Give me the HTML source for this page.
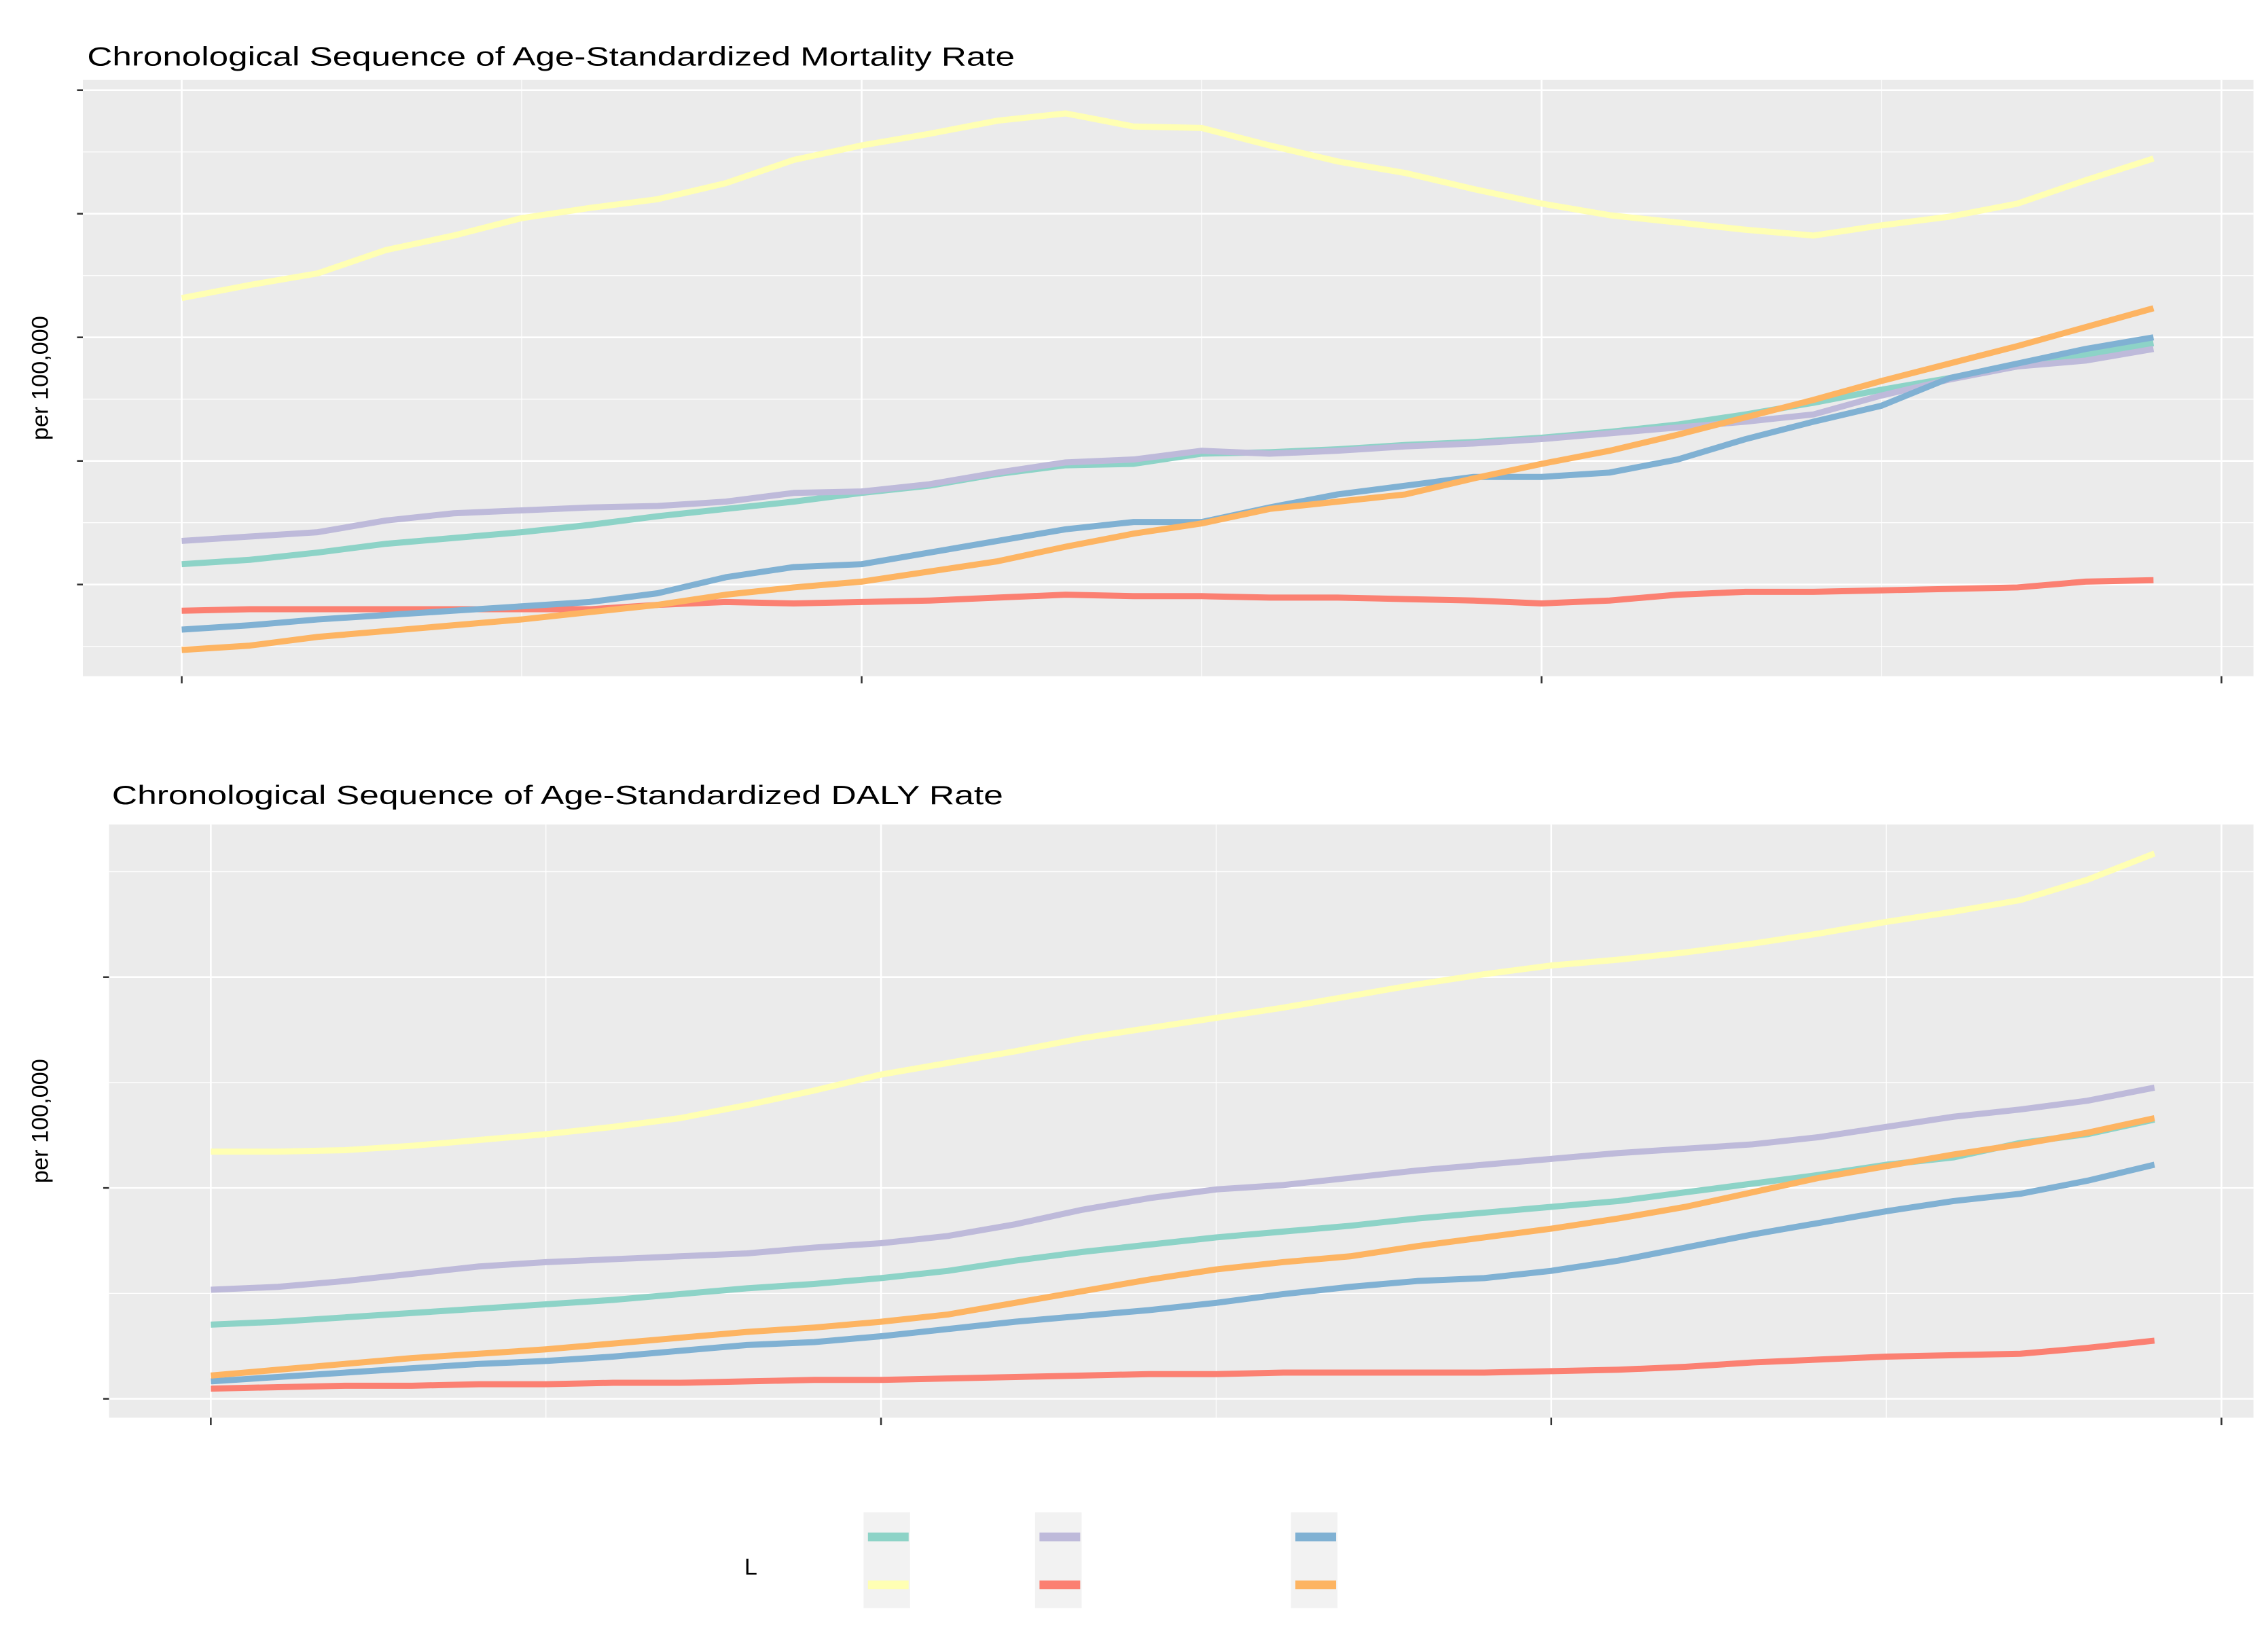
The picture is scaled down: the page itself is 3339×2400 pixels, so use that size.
<!DOCTYPE html>
<html><head><meta charset="utf-8"><style>
html,body{margin:0;padding:0;background:#fff}
svg{display:block}
text{font-family:"Liberation Sans",sans-serif;fill:#000}
</style></head><body>
<svg id="chart" width="3339" height="2400" viewBox="0 0 1560 1121" preserveAspectRatio="none" xmlns="http://www.w3.org/2000/svg">
<rect width="1560" height="1121" fill="#fff"/>
<g id="p1"></g>
<g id="p2"></g>
<g id="legend"></g>
</svg>
<script>
const years = [1990,1991,1992,1993,1994,1995,1996,1997,1998,1999,2000,2001,2002,2003,2004,2005,2006,2007,2008,2009,2010,2011,2012,2013,2014,2015,2016,2017,2018,2019];
const seriesNames = ["s1","s2","s3","s4","s5","s6"];
const seriesColors = ["#8DD3C7","#FFFFB3","#BEBADA","#FB8072","#80B1D3","#FDB462"];
// Mortality panel values (arbitrary units)
const mortTeal   = [77,80,85,91,95,99,104,110,115,120,126,131,139,145,146,153,154,156,159,161,164,168,173,180,188,197,205,213,221,229];
const mortYellow = [260,269,277,293,303,315,322,328,339,355,365,373,382,387,378,377,365,354,346,335,325,317,312,307,303,310,316,325,341,356];
const mortPurple = [93,96,99,107,112,114,116,117,120,126,127,132,140,147,149,155,153,155,158,160,163,167,171,175,180,193,204,213,217,225];
const mortRed    = [45,46,46,46,46,46,46,49,51,50,51,52,54,56,55,55,54,54,53,52,50,52,56,58,58,59,60,61,65,66];
const mortBlue   = [32,35,39,42,45,48,51,57,68,75,77,85,93,101,106,106,116,125,131,137,137,140,149,163,175,186,205,215,225,233];
const mortOrange = [18,21,27,31,35,39,44,49,56,61,65,72,79,89,98,105,115,120,125,136,146,155,166,178,190,203,215,227,240,253];
// DALY panel values
const dalyTeal   = [64,66,69,72,75,78,81,85,89,92,96,101,108,114,119,124,128,132,137,141,145,149,155,161,167,174,179,189,195,205];
const dalyYellow = [183,183,184,187,191,195,200,206,215,225,236,244,252,261,268,275,282,290,298,305,311,315,320,326,333,341,348,356,370,388];
const dalyPurple = [88,90,94,99,104,107,109,111,113,117,120,125,133,143,151,157,160,165,170,174,178,182,185,188,193,200,207,212,218,227];
const dalyRed    = [20,21,22,22,23,23,24,24,25,26,26,27,28,29,30,30,31,31,31,31,32,33,35,38,40,42,43,44,48,53];
const dalyBlue   = [25,28,31,34,37,39,42,46,50,52,56,61,66,70,74,79,85,90,94,96,101,108,117,126,134,142,149,154,163,174];
const dalyOrange = [29,33,37,41,44,47,51,55,59,62,66,71,79,87,95,102,107,111,118,124,130,137,145,155,165,173,181,188,196,206];
const mortTicks = [63,148,233,318,403];
const dalyTicks = [13,158,303];
const xTicks = [1990,2000,2010,2020];

const NS="http://www.w3.org/2000/svg";
function mk(parent,tag,attrs){const e=document.createElementNS(NS,tag);for(const k in attrs)e.setAttribute(k,attrs[k]);parent.appendChild(e);return e;}

function panel(g,cfg){
  const xs=v=>cfg.x0+(v-1990)/30*(cfg.x1-cfg.x0);
  const ys=v=>cfg.yb-(v-cfg.d0)/(cfg.d1-cfg.d0)*(cfg.yb-cfg.yt);
  const bg=mk(g,'rect',{x:cfg.l,y:cfg.yt,width:cfg.r-cfg.l,height:cfg.yb-cfg.yt,fill:'#EBEBEB'});
  
  
  const step=cfg.ticks[1]-cfg.ticks[0];
  for(let i=-1;i<cfg.ticks.length;i++){
    const m=cfg.ticks[0]+step*i+step/2;
    if(ys(m)>cfg.yt&&ys(m)<cfg.yb){const l=mk(g,'line',{x1:cfg.l,x2:cfg.r,y1:ys(m),y2:ys(m),stroke:'#fff','stroke-width':0.6});
      }
  }
  for(let i=0;i<xTicks.length-1;i++){
    const m=(xTicks[i]+xTicks[i+1])/2;
    const l=mk(g,'line',{x1:xs(m),x2:xs(m),y1:cfg.yt,y2:cfg.yb,stroke:'#fff','stroke-width':0.6});
    
  }
  cfg.ticks.forEach(t=>{
    const l=mk(g,'line',{x1:cfg.l,x2:cfg.r,y1:ys(t),y2:ys(t),stroke:'#fff','stroke-width':1.2});
    
    const tk=mk(g,'line',{x1:cfg.l-4,x2:cfg.l,y1:ys(t),y2:ys(t),stroke:'#333','stroke-width':1.2});
    
  });
  xTicks.forEach(t=>{
    const l=mk(g,'line',{x1:xs(t),x2:xs(t),y1:cfg.yt,y2:cfg.yb,stroke:'#fff','stroke-width':1.2});
    
    const tk=mk(g,'line',{x1:xs(t),x2:xs(t),y1:cfg.yb,y2:cfg.yb+5,stroke:'#333','stroke-width':1.2});
    
  });
  cfg.series.forEach((arr,si)=>{
    const d=arr.map((v,i)=>(i?'L':'M')+xs(years[i]).toFixed(2)+','+ys(v).toFixed(2)).join('');
    const p=mk(g,'path',{d:d,fill:'none',stroke:seriesColors[si],'stroke-width':4.2,'stroke-linejoin':'round'});
    
    
  });
  const t=mk(g,'text',{x:cfg.tx,y:cfg.ty,'font-size':18,textLength:cfg.tw,lengthAdjust:'spacingAndGlyphs'});
  t.textContent=cfg.title;
  
  const yt=mk(g,'text',{x:0,y:0,'font-size':16,'text-anchor':'middle',transform:`translate(33,${(cfg.yt+cfg.yb)/2}) rotate(-90)`});
  yt.textContent='per 100,000';
  
}

panel(document.getElementById('p1'),{l:57,r:1550,yt:55,yb:465,x0:125,x1:1528,d0:0,d1:410,
  ticks:mortTicks,series:[mortTeal,mortYellow,mortPurple,mortRed,mortBlue,mortOrange],
  title:'Chronological Sequence of Age-Standardized Mortality Rate',tx:60,ty:45,tw:638});
panel(document.getElementById('p2'),{l:75,r:1550,yt:567,yb:975,x0:145,x1:1528,d0:0,d1:408,
  ticks:dalyTicks,series:[dalyTeal,dalyYellow,dalyPurple,dalyRed,dalyBlue,dalyOrange],
  title:'Chronological Sequence of Age-Standardized DALY Rate',tx:77,ty:553,tw:613});

const lg=document.getElementById('legend');
const lt=mk(lg,'text',{x:512,y:1083,'font-size':16});
lt.textContent='L';

const cols=[594,712,888];
for(let c=0;c<3;c++){
  const b=mk(lg,'rect',{x:cols[c],y:1040,width:32,height:66,fill:'#F2F2F2'});
  
}
const order=[[0,0,0],[0,1,1],[1,0,2],[1,1,3],[2,0,4],[2,1,5]];
order.forEach(([c,r,si])=>{
  const k=mk(lg,'rect',{x:cols[c]+3,y:(r?1087:1054),width:28,height:6,fill:seriesColors[si]});
  
  
});
</script>
</body></html>
